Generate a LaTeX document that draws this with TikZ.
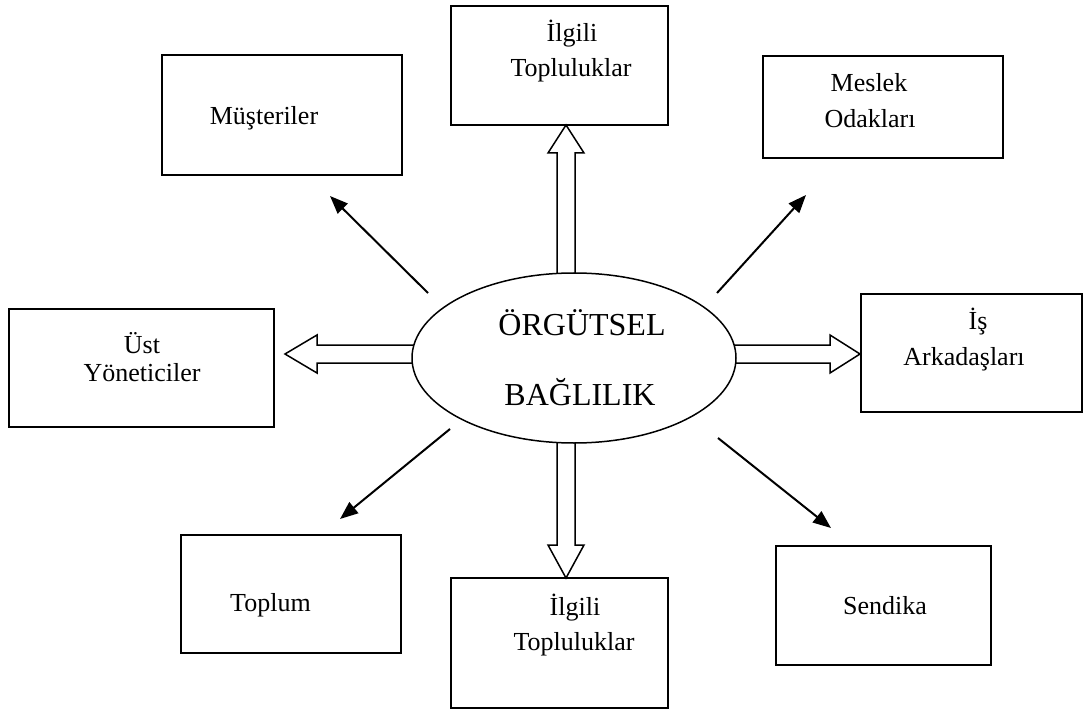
\documentclass[tikz,border=0pt]{standalone}
\usepackage{fontspec}
\setmainfont{Liberation Serif}
\usetikzlibrary{arrows.meta,shapes.geometric}
\begin{document}
\begin{tikzpicture}[x=1pt,y=-1pt,
  box/.style={draw, line width=1.6pt, rectangle, inner sep=0pt},
  lbl/.style={anchor=base, inner sep=0pt, font=\fontsize{26}{31}\selectfont},
  biglbl/.style={anchor=base, inner sep=0pt, font=\fontsize{32}{38}\selectfont},
  thinarrow/.style={line width=2pt, -{Triangle[length=18pt,width=14pt]}},
  hollow/.style={draw, line width=1.5pt, fill=white, line join=miter}]

\useasboundingbox (0,0) rectangle (1084,711);

% boxes
\node[box, minimum width=240pt, minimum height=120pt] (must) at (282,115) {};
\node[box, minimum width=217pt, minimum height=119pt] (ilgt) at (559.5,65.5) {};
\node[box, minimum width=240pt, minimum height=102pt] (mesl) at (883,107) {};
\node[box, minimum width=265pt, minimum height=118pt] (ust) at (141.5,368) {};
\node[box, minimum width=221pt, minimum height=118pt] (isark) at (971.5,353) {};
\node[box, minimum width=220pt, minimum height=118pt] (topl) at (291,594) {};
\node[box, minimum width=217pt, minimum height=130pt] (ilgb) at (559.5,643) {};
\node[box, minimum width=215pt, minimum height=119pt] (send) at (883.5,605.5) {};

% box texts
\node[lbl] (tmust) at (264,125) {Müşteriler};
\node[lbl] (tilgt1) at (572,42) {İlgili};
\node[lbl] (tilgt2) at (571,77) {Topluluklar};
\node[lbl] (tmesl1) at (869,92) {Meslek};
\node[lbl] (tmesl2) at (870,128) {Odakları};
\node[lbl] (tust1) at (142,353) {Üst};
\node[lbl] (tust2) at (142,381) {Yöneticiler};
\node[lbl] (tis1) at (978,330) {İş};
\node[lbl] (tis2) at (964,365) {Arkadaşları};
\node[lbl] (ttopl) at (270.5,611) {Toplum};
\node[lbl] (tilgb1) at (575,615) {İlgili};
\node[lbl] (tilgb2) at (574,650) {Topluluklar};
\node[lbl] (tsend) at (885,614) {Sendika};

% hollow arrows
\path[hollow] (557,300) -- (557,153) -- (548,153) -- (566,125) -- (584,153) -- (575,153) -- (575,300) -- cycle;
\path[hollow] (557,420) -- (557,545) -- (548,545) -- (566,578) -- (584,545) -- (575,545) -- (575,420) -- cycle;
\path[hollow] (440,345) -- (317,345) -- (317,335) -- (285,354) -- (317,373) -- (317,363) -- (440,363) -- cycle;
\path[hollow] (710,345) -- (830,345) -- (830,335) -- (860,354) -- (830,373) -- (830,363) -- (710,363) -- cycle;

% centre ellipse
\node[ellipse, draw, line width=1.5pt, fill=white, minimum width=324pt, minimum height=170pt, inner sep=0pt] (ob) at (574,358) {};
\node[biglbl] (tob1) at (582,335) {ÖRGÜTSEL};
\node[biglbl] (tob2) at (580,405) {BAĞLILIK};

% thin arrows
\coordinate (a1s) at (428,293); \coordinate (a1e) at (330,196);
\coordinate (a2s) at (717,293); \coordinate (a2e) at (806,195);
\coordinate (a3s) at (450,429); \coordinate (a3e) at (340,519);
\coordinate (a4s) at (718,438); \coordinate (a4e) at (831,528);
\draw[thinarrow] (a1s) -- (a1e);
\draw[thinarrow] (a2s) -- (a2e);
\draw[thinarrow] (a3s) -- (a3e);
\draw[thinarrow] (a4s) -- (a4e);
\end{tikzpicture}
\end{document}
